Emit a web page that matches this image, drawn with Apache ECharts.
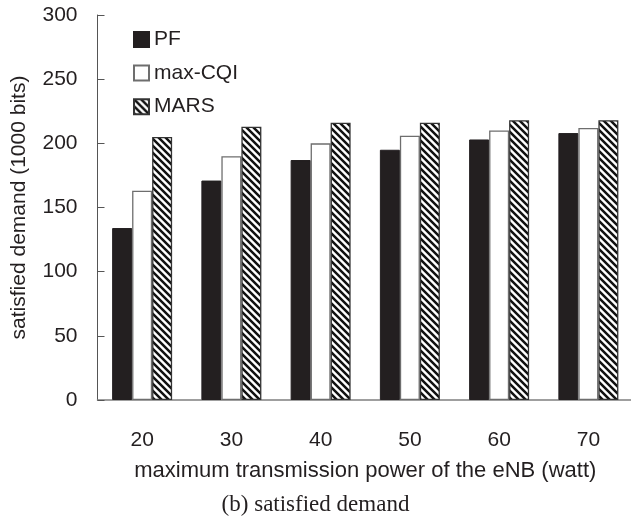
<!DOCTYPE html>
<html>
<head>
<meta charset="utf-8">
<script src="https://cdn.jsdelivr.net/npm/echarts@6/dist/echarts.min.js"></script>
<style>
html,body{margin:0;padding:0;background:#fff;}
#c{width:631px;height:519px;}
</style>
</head>
<body>
<div id="c"></div>
<script>
var categories = ['20', '30', '40', '50', '60', '70'];
var pfValues = [134, 171, 187, 195, 203, 208];
var cqiValues = [163, 190, 200, 206, 210, 212];
var marsValues = [205, 213, 216, 216, 218, 218];
var seriesNames = ['PF', 'max-CQI', 'MARS'];
var yTicks = [0, 50, 100, 150, 200, 250, 300];

function hatch() {
  var s = 7;
  var cv = document.createElement('canvas');
  cv.width = s; cv.height = s;
  var ctx = cv.getContext('2d');
  ctx.fillStyle = '#fff';
  ctx.fillRect(0, 0, s, s);
  ctx.strokeStyle = '#111';
  ctx.lineWidth = 2.5;
  ctx.beginPath();
  for (var k = -1; k <= 1; k++) {
    ctx.moveTo(k * s - 1, -1);
    ctx.lineTo(k * s + s + 1, s + 1);
  }
  ctx.stroke();
  return cv;
}

var font = 'Liberation Sans, Arial, sans-serif';
var chart = echarts.init(document.getElementById('c'), null, {renderer: 'canvas'});
chart.setOption({
  animation: false,
  backgroundColor: '#fff',
  grid: {left: 97.5, right: -2, top: 15, bottom: 119, containLabel: false, outerBoundsMode: 'none'},
  legend: {
    orient: 'vertical',
    left: 128,
    top: 24,
    itemWidth: 15,
    itemHeight: 15,
    itemGap: 12.6,
    icon: 'rect',
    textStyle: {fontFamily: font, fontSize: 21, color: '#231f20', lineHeight: 21},
    data: seriesNames
  },
  xAxis: {
    type: 'category',
    data: categories,
    axisLine: {lineStyle: {color: '#808080', width: 1.5}},
    axisTick: {inside: true, length: 6, lineStyle: {color: '#333'}},
    axisLabel: {fontFamily: font, fontSize: 21, color: '#231f20', margin: 30},
    name: 'maximum transmission power of the eNB (watt)',
    nameLocation: 'middle',
    nameGap: 60,
    nameTextStyle: {fontFamily: font, fontSize: 22, color: '#231f20'}
  },
  yAxis: {
    type: 'value',
    min: yTicks[0],
    max: yTicks[yTicks.length - 1],
    interval: 50,
    splitLine: {show: false},
    axisLine: {show: true, lineStyle: {color: '#555', width: 1}},
    axisTick: {show: true, inside: true, length: 7, lineStyle: {color: '#555'}},
    axisLabel: {fontFamily: font, fontSize: 21, color: '#231f20', margin: 20},
    name: 'satisfied demand (1000 bits)',
    nameLocation: 'middle',
    nameGap: 68,
    nameRotate: 90,
    nameTextStyle: {fontFamily: font, fontSize: 21, color: '#231f20'}
  },
  series: [
    {
      name: seriesNames[0], type: 'bar', data: pfValues, barWidth: 20, barGap: '0%',
      itemStyle: {color: '#231f20', borderColor: '#231f20', borderWidth: 1}
    },
    {
      name: seriesNames[1], type: 'bar', data: cqiValues, barWidth: 20, barGap: '0%',
      itemStyle: {color: '#fff', borderColor: '#6e6e6e', borderWidth: 1.3}
    },
    {
      name: seriesNames[2], type: 'bar', data: marsValues, barWidth: 20, barGap: '0%',
      itemStyle: {color: {image: hatch(), repeat: 'repeat'}, borderColor: '#333', borderWidth: 1.3}
    }
  ],
  graphic: [{
    type: 'text',
    left: 'center',
    top: 493,
    style: {text: '(b) satisfied demand', font: '23px "Liberation Serif", "DejaVu Serif", serif', fill: '#231f20'}
  }]
});
</script>
</body>
</html>
